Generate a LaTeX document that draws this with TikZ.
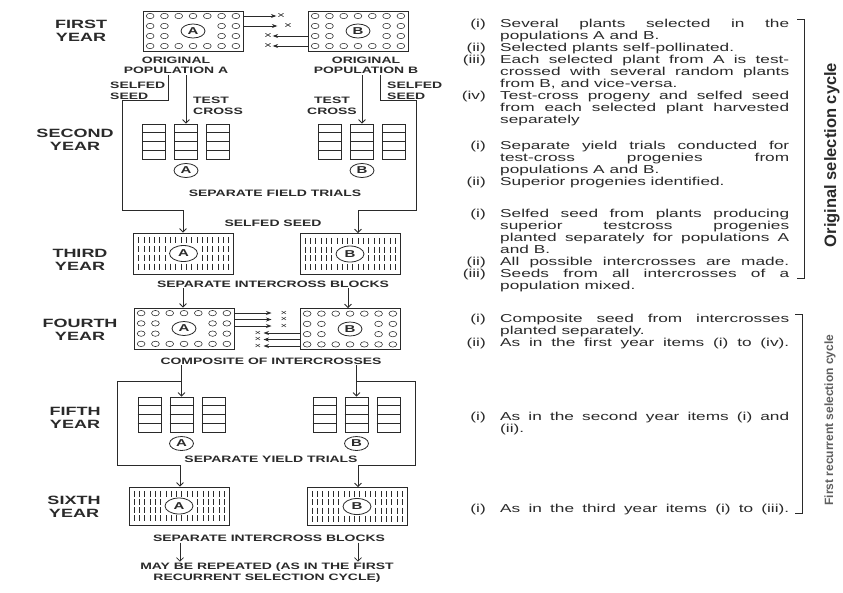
\documentclass[tikz,border=0pt]{standalone}
\usepackage{fontspec}
\setmainfont{Liberation Sans}[FakeStretch=1.5]
\newfontfamily\plainsans{Liberation Sans}
\usetikzlibrary{arrows.meta,shapes.geometric}
\definecolor{ink}{HTML}{2A2A2A}
\tikzset{
 ln/.style={draw=ink, line width=0.8pt},
 dotln/.style={draw=ink, line width=0.55pt},
 arr/.style={ln, -{Straight Barb[length=3.5pt,width=7pt]}},
 sarr/.style={ln, -{Stealth[length=5.5pt,width=4pt]}},
 yr/.style={font=\fontsize{12}{12.5}\selectfont\bfseries, align=center, text=ink, inner sep=0pt},
 lbl/.style={font=\fontsize{9.3}{10.5}\selectfont\bfseries, text=ink, inner sep=1pt},
 lett/.style={ellipse, ln, minimum width=24pt, minimum height=14pt, inner sep=0pt, font=\fontsize{10}{10}\selectfont\bfseries, text=ink},
 xm/.style={font=\fontsize{9}{9}\selectfont, text=ink, inner sep=0.5pt},
 xs/.style={font=\fontsize{7.5}{7.5}\selectfont, text=ink, inner sep=0pt, text height=4pt, text depth=0pt},
 rtxt/.style={font=\fontsize{11.5}{12}\selectfont, text=ink, inner sep=0pt},
 boxnode/.style={ln, rectangle, inner sep=0pt, minimum width=100pt},
 barnode/.style={ln, rectangle, inner sep=0pt, minimum width=23pt, minimum height=35pt},
}
\newcommand\circbox[5]{%
 \node[boxnode, minimum height=#4pt] (#1) at (#2,#3) {};
 \foreach \ci in {0,...,6}{%
   \draw[dotln] ({#2-42.86+\ci*14.29},{#3-0.375*#4}) ellipse [x radius=3.9, y radius=2.7];
   \draw[dotln] ({#2-42.86+\ci*14.29},{#3+0.375*#4}) ellipse [x radius=3.9, y radius=2.7];
 }
 \foreach \ci in {0,1,5,6}{%
   \draw[dotln] ({#2-42.86+\ci*14.29},{#3-0.125*#4}) ellipse [x radius=3.9, y radius=2.7];
   \draw[dotln] ({#2-42.86+\ci*14.29},{#3+0.125*#4}) ellipse [x radius=3.9, y radius=2.7];
 }
 \node[lett] (#1L) at (#2,#3) {#5};
}
\newcommand\tickbox[5]{%
 \node[boxnode, minimum height=#4pt] (#1) at (#2,#3) {};
 \foreach \ri in {-1.5,1.5}{\foreach \ci in {0,...,17}{%
   \draw[dotln] ({#2-45+\ci*5.3},{#3+\ri*0.215*#4-3}) -- ++(0,6);}}
 \foreach \ri in {-0.5,0.5}{\foreach \ci in {0,1,2,3,4,5,12,13,14,15,16,17}{%
   \draw[dotln] ({#2-45+\ci*5.3},{#3+\ri*0.215*#4-3}) -- ++(0,6);}}
 \node[lett, minimum width=28pt, minimum height=16pt] (#1L) at (#2,#3) {#5};
}
\newcommand\barset[4]{%
 \foreach \ki/\si in {a/-1,b/0,c/1}{%
   \node[barnode] (#1\ki) at ({#2+\si*32},#3) {};
   \foreach \hh in {-8.75,0,8.75}{\draw[dotln] ([yshift=\hh pt]#1\ki.west) -- ([yshift=\hh pt]#1\ki.east);}
 }
 \node[lett] (#1L) at (#2,{#3+29}) {#4};
}
\newcommand\rlab[3]{\node[rtxt, anchor=base east] (#1) at (486,#2) {#3};}
\newcommand\rtxl[3]{\node[rtxt, anchor=base west] (#1) at (500,#2) {#3};}
\newcommand\rtxj[3]{\node[rtxt, anchor=base west] (#1) at (500,#2) {\hbox to 289pt{#3}};}
\begin{document}
\begin{tikzpicture}[x=1pt,y=-1pt]
\useasboundingbox (0,0) rectangle (843,592);
\fill[white] (0,0) rectangle (843,592);

% ---------- FIRST YEAR
\node[yr] (yr1) at (81,31) {FIRST\\YEAR};
\circbox{fyA}{193}{31}{40}{A}
\circbox{fyB}{358}{31}{40}{B}
\node[xm] (x1) at (281,16) {×};
\node[xm] (x2) at (288,26) {×};
\node[xm] (x3) at (268,36) {×};
\node[xm] (x4) at (268,46) {×};
\draw[sarr] (fyA.east |- x1) -- (x1.west);
\draw[sarr] (fyA.east |- x2) -- ([xshift=-6pt]x2.west);
\draw[sarr] (fyB.west |- x3) -- (x3.east);
\draw[sarr] (fyB.west |- x4) -- (x4.east);
\node[lbl, align=center] (popA) at (176,65.5) {ORIGINAL\\POPULATION A};
\node[lbl, align=center] (popB) at (366,65.5) {ORIGINAL\\POPULATION B};
\node[lbl, align=left, anchor=west] (ssA) at (109,91) {SELFED\\SEED};
\node[lbl, align=left, anchor=west] (tcA) at (192,106) {TEST\\CROSS};
\node[lbl, align=center, anchor=east] (tcB) at (358,106) {TEST\\CROSS};
\node[lbl, align=left, anchor=west] (ssB) at (386,91) {SELFED\\SEED};

% ---------- SECOND YEAR
\node[yr] (yr2) at (75,140) {SECOND\\YEAR};
\barset{bA}{186}{141.5}{A}
\barset{bB}{362}{141.5}{B}
\node[lbl] (sft) at (275,193) {SEPARATE FIELD TRIALS};
\node[lbl] (ss3) at (273,223) {SELFED SEED};
\draw[arr] (popA.south -| bAb) -- (bAb.north);
\draw[arr] (popB.south -| bBb) -- (bBb.north);

% ---------- THIRD YEAR
\node[yr] (yr3) at (80,260) {THIRD\\YEAR};
\tickbox{tA}{183.5}{253.5}{41}{A}
\tickbox{tB}{350}{254}{41}{B}
\node[lbl] (sib1) at (273,284) {SEPARATE INTERCROSS BLOCKS};
\draw[arr] (popA.south -| 168,0) |- (122,100) |- (183,210) -- (tA.north -| 183,0);
\draw[arr] (popB.south -| 380,0) |- (416,100) |- (358,210) -- (tB.north -| 358,0);

% ---------- FOURTH YEAR
\node[yr] (yr4) at (80,330) {FOURTH\\YEAR};
\circbox{fA}{184}{328.5}{41}{A}
\circbox{fB}{350}{329}{41}{B}
\draw[arr] (sib1.south -| 183,0) -- (fA.north -| 183,0);
\draw[arr] (sib1.south -| 348,0) -- (fB.north -| 348,0);
\node[xs] (xr1) at (284,313) {×};
\node[xs] (xr2) at (284,319.5) {×};
\node[xs] (xr3) at (284,326) {×};
\node[xs] (xl1) at (258,333) {×};
\node[xs] (xl2) at (258,339.5) {×};
\node[xs] (xl3) at (258,346) {×};
\draw[sarr] (fA.east |- xr1) -- ([xshift=-9pt]xr1.west);
\draw[sarr] (fA.east |- xr2) -- ([xshift=-9pt]xr2.west);
\draw[sarr] (fA.east |- xr3) -- ([xshift=-9pt]xr3.west);
\draw[sarr] (fB.west |- xl1) -- ([xshift=2pt]xl1.east);
\draw[sarr] (fB.west |- xl2) -- ([xshift=2pt]xl2.east);
\draw[sarr] (fB.west |- xl3) -- ([xshift=2pt]xl3.east);
\node[lbl] (cmp) at (271,361) {COMPOSITE OF INTERCROSSES};

% ---------- FIFTH YEAR
\node[yr] (yr5) at (75,418) {FIFTH\\YEAR};
\barset{vA}{181.5}{414.5}{A}
\barset{vB}{356.5}{414.5}{B}
\node[lbl] (syt) at (271,459) {SEPARATE YIELD TRIALS};
\draw[arr] (cmp.south -| vAb) -- (vAb.north);
\draw[arr] (cmp.south -| vBb) -- (vBb.north);

% ---------- SIXTH YEAR
\node[yr] (yr6) at (74,507) {SIXTH\\YEAR};
\tickbox{xA}{179}{506}{38}{A}
\tickbox{xB}{357}{506.5}{38}{B}
\coordinate (jA) at (181.5,381);
\coordinate (jB) at (356.5,381);
\draw[arr] (jA) -| (117,465) -- (180,465) -- (xA.north -| 180,0);
\draw[arr] (jB) -| (415,465) -- (358,465) -- (xB.north -| 358,0);
\node[lbl] (sib2) at (269,538) {SEPARATE INTERCROSS BLOCKS};
\node[lbl, align=center] (may) at (267,572.5) {MAY BE REPEATED (AS IN THE FIRST\\RECURRENT SELECTION CYCLE)};
\draw[arr] (sib2.south -| 180,0) -- (may.north -| 180,0);
\draw[arr] (sib2.south -| 358,0) -- (may.north -| 358,0);

% ---------- right-hand text
\rlab{l11}{27}{(i)}   \rtxj{t11}{27}{Several plants selected in the}
\rtxl{t12}{39}{populations A and B.}
\rlab{l12}{51}{(ii)}  \rtxl{t13}{51}{Selected plants self-pollinated.}
\rlab{l13}{63}{(iii)} \rtxj{t14}{63}{Each selected plant from A is test-}
\rtxj{t15}{75}{crossed with several random plants}
\rtxl{t16}{87}{from B, and vice-versa.}
\rlab{l14}{99}{(iv)}  \rtxj{t17}{99}{Test-cross progeny and selfed seed}
\rtxj{t18}{111}{from each selected plant harvested}
\rtxl{t19}{123}{separately}

\rlab{l21}{149}{(i)}  \rtxj{t21}{149}{Separate yield trials conducted for}
\rtxj{t22}{161}{test-cross progenies from}
\rtxl{t23}{173}{populations A and B.}
\rlab{l22}{185}{(ii)} \rtxl{t24}{185}{Superior progenies identified.}

\rlab{l31}{217}{(i)}  \rtxj{t31}{217}{Selfed seed from plants producing}
\rtxj{t32}{229}{superior testcross progenies}
\rtxj{t33}{241}{planted separately for populations A}
\rtxl{t34}{253}{and B.}
\rlab{l32}{265}{(ii)} \rtxj{t35}{265}{All possible intercrosses are made.}
\rlab{l33}{277}{(iii)} \rtxj{t36}{277}{Seeds from all intercrosses of a}
\rtxl{t37}{289}{population mixed.}

\rlab{l41}{322}{(i)}  \rtxj{t41}{322}{Composite seed from intercrosses}
\rtxl{t42}{334}{planted separately.}
\rlab{l42}{346}{(ii)} \rtxj{t43}{346}{As in the first year items (i) to (iv).}

\rlab{l51}{420}{(i)}  \rtxj{t51}{420}{As in the second year items (i) and}
\rtxl{t52}{432}{(ii).}

\rlab{l61}{512}{(i)}  \rtxj{t61}{512}{As in the third year items (i) to (iii).}

% brackets
\draw[ln] (797,19) -- (804,19) -- (804,278) -- (797,278);
\draw[ln] (795,314) -- (802,314) -- (802,513) -- (795,513);
\node[rotate=90, font=\plainsans\fontsize{16.5}{16.5}\selectfont\bfseries, text=ink, inner sep=0pt] (oc) at (832,155) {Original selection cycle};
\node[rotate=90, font=\plainsans\fontsize{12}{12}\selectfont\bfseries, text=ink!75, inner sep=0pt] (fr) at (830,420) {First recurrent selection cycle};
\end{tikzpicture}
\end{document}
